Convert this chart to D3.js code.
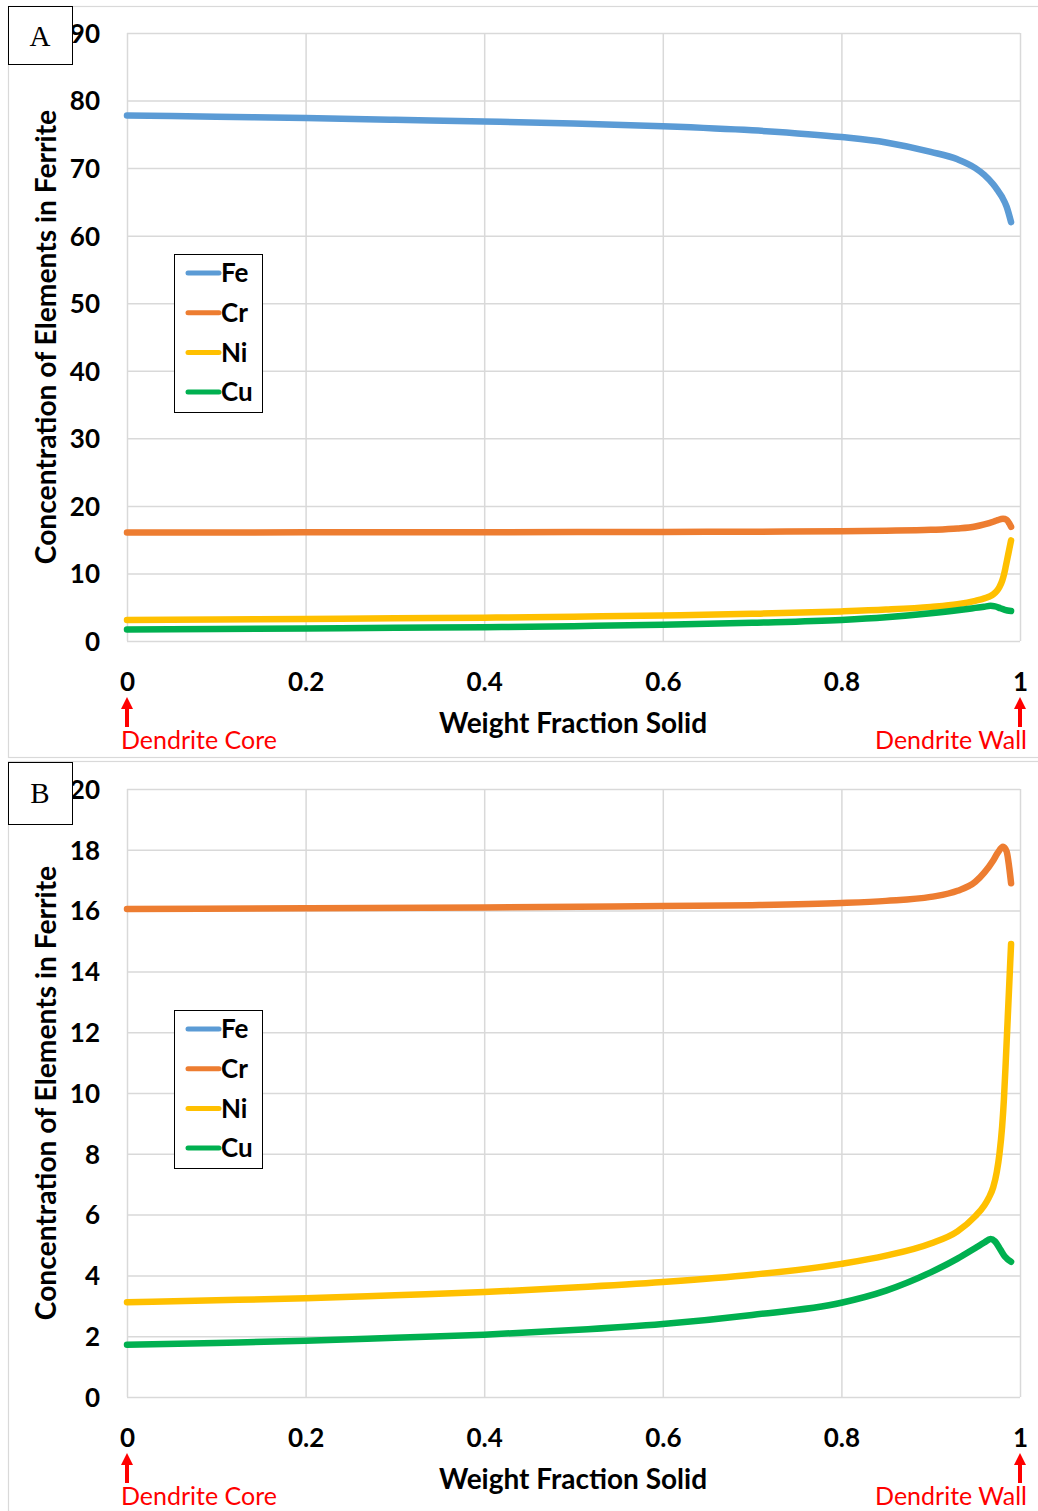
<!DOCTYPE html>
<html><head><meta charset="utf-8">
<script src="https://cdn.jsdelivr.net/npm/d3@7"></script>
<style>
body{margin:0;background:#fff;}
svg{display:block;}
</style></head>
<body>
<svg id="chart" width="1038" height="1511"></svg>
<script>
// ---- data ----
const seriesNames = ["Fe", "Cr", "Ni", "Cu"];
const seriesColors = ["#5B9BD5", "#ED7D31", "#FFC000", "#00B050"];

const feX = [0, 0.1, 0.2, 0.3, 0.4, 0.5, 0.6, 0.7, 0.8, 0.85, 0.9, 0.93, 0.95, 0.96, 0.97, 0.975, 0.98, 0.985, 0.99];
const feY = [77.8, 77.6, 77.4, 77.15, 76.9, 76.6, 76.2, 75.6, 74.6, 73.8, 72.4, 71.3, 70.0, 69.0, 67.6, 66.7, 65.7, 64.3, 62.0];

const crX = [0, 0.2, 0.4, 0.6, 0.7, 0.8, 0.85, 0.9, 0.93, 0.95, 0.96, 0.97, 0.975, 0.981, 0.985, 0.988, 0.99];
const crY = [16.05, 16.08, 16.1, 16.15, 16.18, 16.25, 16.32, 16.45, 16.65, 16.95, 17.25, 17.65, 17.9, 18.1, 17.95, 17.4, 16.9];

const niX = [0, 0.1, 0.2, 0.3, 0.4, 0.5, 0.6, 0.7, 0.8, 0.85, 0.9, 0.93, 0.95, 0.96, 0.965, 0.97, 0.974, 0.977, 0.98, 0.982, 0.984, 0.986, 0.988, 0.99];
const niY = [3.12, 3.18, 3.25, 3.35, 3.45, 3.6, 3.78, 4.02, 4.38, 4.65, 5.05, 5.45, 5.95, 6.3, 6.55, 6.9, 7.4, 8.0, 8.9, 9.8, 11.0, 12.3, 13.6, 14.9];

const cuX = [0, 0.1, 0.2, 0.3, 0.4, 0.5, 0.6, 0.7, 0.8, 0.85, 0.9, 0.93, 0.95, 0.96, 0.967, 0.972, 0.978, 0.983, 0.99];
const cuY = [1.72, 1.78, 1.85, 1.95, 2.05, 2.2, 2.4, 2.7, 3.1, 3.5, 4.1, 4.55, 4.9, 5.08, 5.2, 5.12, 4.85, 4.62, 4.45];

const xTickValues = [0, 0.2, 0.4, 0.6, 0.8, 1];
const xTickLabels = ["0", "0.2", "0.4", "0.6", "0.8", "1"];
const yTicksA = [0, 10, 20, 30, 40, 50, 60, 70, 80, 90];
const yTicksB = [0, 2, 4, 6, 8, 10, 12, 14, 16, 18, 20];
const panelLabels = ["A", "B"];
const xTitle = "Weight Fraction Solid";
const yTitle = "Concentration of Elements in Ferrite";
const coreLabel = "Dendrite Core";
const wallLabel = "Dendrite Wall";

// ---- drawing ----
const svg = d3.select("#chart");
const FONT = "Lato, 'Open Sans', sans-serif";
const seriesX = [feX, crX, niX, cuX];
const seriesY = [feY, crY, niY, cuY];

const panels = [
  {label: panelLabels[0], yMax: 90, ticks: yTicksA, off: 0, border: [8, 6, 1040, 757]},
  {label: panelLabels[1], yMax: 20, ticks: yTicksB, off: 756, border: [8, 761, 1040, 1511]}
];

const X0 = 127, X1 = 1020;

panels.forEach(p => {
  const g = svg.append("g");
  const top = 33 + p.off, bottom = 641 + p.off;
  const x = d3.scaleLinear().domain([0, 1]).range([X0, X1]);
  const y = d3.scaleLinear().domain([0, p.yMax]).range([bottom, top]);

  // panel border
  g.append("rect").attr("x", p.border[0] + 0.5).attr("y", p.border[1] + 0.5)
    .attr("width", p.border[2] - p.border[0]).attr("height", p.border[3] - p.border[1])
    .attr("fill", "none").attr("stroke", "#d9d9d9").attr("stroke-width", 1.2);

  // y axis with gridlines
  const ya = g.append("g").attr("transform", `translate(${X0},0)`)
    .call(d3.axisLeft(y).tickValues(p.ticks).tickSize(-(X1 - X0)).tickPadding(27).tickFormat(d3.format("d")));
  ya.select(".domain").remove();
  ya.selectAll(".tick line").attr("stroke", "#d9d9d9").attr("stroke-width", 1.5);
  ya.selectAll(".tick text").attr("font-family", FONT).attr("font-weight", "bold")
    .attr("font-size", 26).attr("fill", "#000").attr("dy", "0.36em");

  // x axis with gridlines
  const xa = g.append("g").attr("transform", `translate(0,${bottom})`)
    .call(d3.axisBottom(x).tickValues(xTickValues).tickSize(-(bottom - top))
      .tickFormat((d, i) => xTickLabels[i]));
  xa.select(".domain").remove();
  xa.selectAll(".tick line").attr("stroke", "#d9d9d9").attr("stroke-width", 1.5);
  xa.selectAll(".tick text").attr("font-family", FONT).attr("font-weight", "bold")
    .attr("font-size", 26).attr("fill", "#000").attr("y", 41).attr("dy", "0.36em");

  // series
  const line = d3.line().x(d => x(d[0])).y(d => y(d[1])).curve(d3.curveMonotoneX);
  seriesNames.forEach((name, i) => {
    const pts = seriesX[i].map((v, k) => [v, seriesY[i][k]]);
    g.append("path").datum(pts).attr("d", line)
      .attr("fill", "none").attr("stroke", seriesColors[i]).attr("stroke-width", 6.5)
      .attr("stroke-linecap", "round").attr("stroke-linejoin", "round");
  });

  // legend
  const lg = g.append("g").attr("transform", `translate(174,${254 + p.off})`);
  lg.append("rect").attr("x", 0.5).attr("y", 0.5).attr("width", 88).attr("height", 158)
    .attr("fill", "#fff").attr("stroke", "#000").attr("stroke-width", 1);
  seriesNames.forEach((name, i) => {
    const cy = 19 + i * 39.7;
    lg.append("line").attr("x1", 14).attr("x2", 45).attr("y1", cy).attr("y2", cy)
      .attr("stroke", seriesColors[i]).attr("stroke-width", 5).attr("stroke-linecap", "round");
    lg.append("text").attr("x", 47).attr("y", cy).attr("dy", "0.36em")
      .attr("font-family", FONT).attr("font-weight", "bold").attr("font-size", 26)
      .attr("fill", "#000").text(name);
  });

  // axis titles
  g.append("text").attr("x", 573).attr("y", 723 + p.off).attr("dy", "0.36em")
    .attr("text-anchor", "middle").attr("font-family", FONT).attr("font-weight", "bold")
    .attr("font-size", 28).attr("fill", "#000").text(xTitle);
  g.append("text").attr("transform", `translate(46,${337 + p.off}) rotate(-90)`)
    .attr("dy", "0.36em").attr("text-anchor", "middle").attr("font-family", FONT)
    .attr("font-weight", "bold").attr("font-size", 28.2).attr("fill", "#000").text(yTitle);

  // red arrows and labels
  [[x(0), coreLabel, "start", 121], [x(1), wallLabel, "end", 1027]].forEach(a => {
    const ax = a[0];
    g.append("line").attr("x1", ax).attr("x2", ax).attr("y1", 708 + p.off).attr("y2", 727 + p.off)
      .attr("stroke", "#FF0000").attr("stroke-width", 4);
    g.append("path").attr("d", `M${ax - 6},${709 + p.off} L${ax},${697 + p.off} L${ax + 6},${709 + p.off} Z`)
      .attr("fill", "#FF0000");
    g.append("text").attr("x", a[3]).attr("y", 740 + p.off).attr("dy", "0.36em")
      .attr("text-anchor", a[2]).attr("font-family", FONT).attr("font-size", 25)
      .attr("fill", "#FF0000").text(a[1]);
  });

  // panel label box
  g.append("rect").attr("x", 8.5).attr("y", p.off === 0 ? 6.5 : 762.5).attr("width", 64).attr("height", p.off === 0 ? 58 : 62)
    .attr("fill", "#fff").attr("stroke", "#000").attr("stroke-width", 1);
  g.append("text").attr("x", 40).attr("y", p.off === 0 ? 36 : 793).attr("dy", "0.35em")
    .attr("text-anchor", "middle").attr("font-family", "'Liberation Serif', 'DejaVu Serif', serif")
    .attr("font-size", 29).attr("fill", "#000").text(p.label);
});
</script>
</body></html>
